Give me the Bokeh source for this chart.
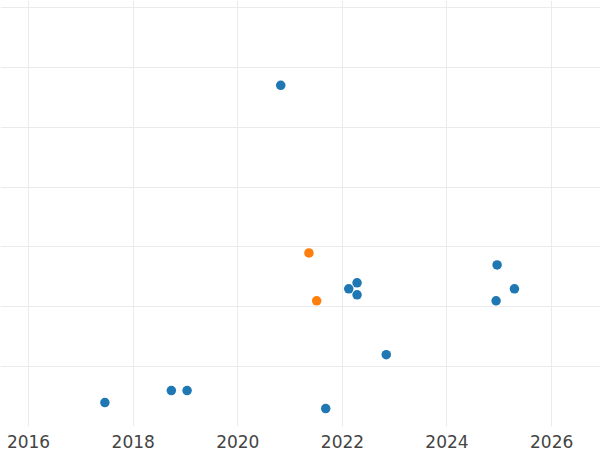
from datetime import datetime
from bokeh.plotting import figure
from bokeh.models import ColumnDataSource, FixedTicker, DatetimeTickFormatter, Range1d
from bokeh.embed import file_html
from bokeh.resources import INLINE

# data
dates = ["2017-06-17", "2018-09-24", "2019-01-12", "2020-10-27", "2021-09-06",
         "2022-02-14", "2022-04-13", "2022-04-13", "2022-11-03",
         "2024-12-09", "2024-12-16", "2025-04-16"]
values = [0.4, 0.6, 0.6, 5.7, 0.3, 2.3, 2.4, 2.2, 1.2, 2.1, 2.7, 2.3]
dates_b = ["2021-05-12", "2021-07-05"]
values_b = [2.9, 2.1]
tick_years = [2016, 2018, 2020, 2022, 2024, 2026]
grid_values = [0, 1, 2, 3, 4, 5, 6, 7]
color_a = "#1f77b4"
color_b = "#ff7f0e"

def to_dt(s):
    return datetime.strptime(s, "%Y-%m-%d")

def ms(d):
    return (d - datetime(1970, 1, 1)).total_seconds() * 1000.0

src_a = ColumnDataSource(dict(x=[to_dt(d) for d in dates], y=values))
src_b = ColumnDataSource(dict(x=[to_dt(d) for d in dates_b], y=values_b))

p = figure(width=600, height=450, output_backend="svg", toolbar_location=None,
           x_axis_type="datetime", y_axis_location=None,
           x_range=Range1d(to_dt("2015-06-19"), to_dt("2026-12-08")),
           y_range=Range1d(0.0, 7.117),
           min_border_left=0, min_border_right=0, min_border_top=0, min_border_bottom=0)
p.outline_line_color = None
p.background_fill_color = "white"
p.border_fill_color = "white"

p.scatter("x", "y", source=src_a, size=9.5, color=color_a, line_color=None)
p.scatter("x", "y", source=src_b, size=9.5, color=color_b, line_color=None)

p.xaxis.ticker = FixedTicker(ticks=[ms(datetime(y, 1, 1)) for y in tick_years])
p.xaxis.formatter = DatetimeTickFormatter(years="%Y", months="%Y", days="%Y", hours="%Y",
                                          hourmin="%Y", minutes="%Y", minsec="%Y",
                                          seconds="%Y", milliseconds="%Y", microseconds="%Y")
p.xaxis.axis_line_color = None
p.xaxis.major_tick_line_color = None
p.xaxis.minor_tick_line_color = None
p.xaxis.major_label_text_font = "DejaVu Sans"
p.xaxis.major_label_text_font_size = "17px"
p.xaxis.major_label_text_color = "#444444"
p.xaxis.major_label_standoff = 2

p.xgrid.grid_line_color = "#ebebeb"
p.ygrid.ticker = FixedTicker(ticks=grid_values)
p.ygrid.grid_line_color = "#ebebeb"

open("out.html", "w").write(file_html(p, INLINE))
